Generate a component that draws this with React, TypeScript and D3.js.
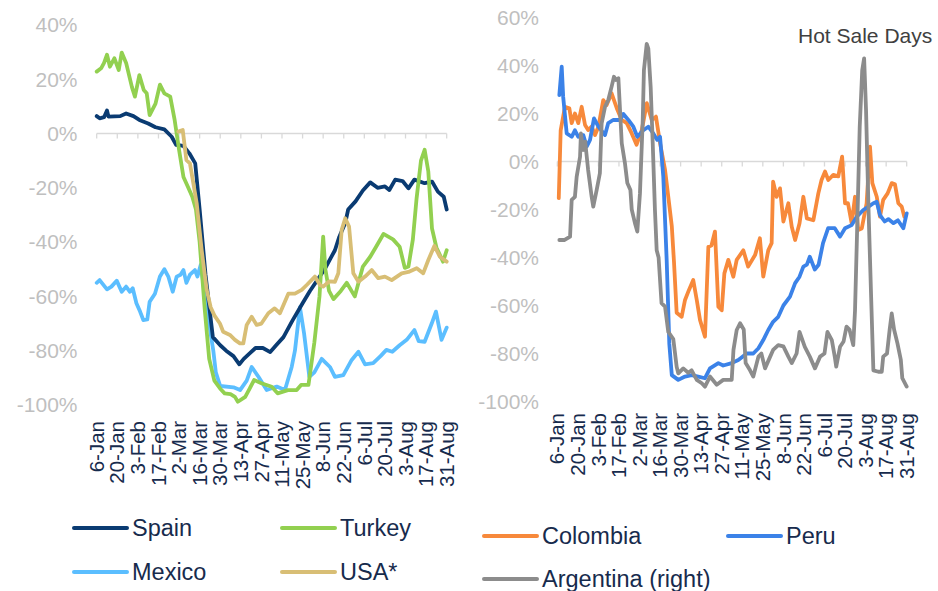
import React from "react";
import * as d3 from "d3";

// Day offsets are counted from 6-Jan
const tickLabels = ["6-Jan","20-Jan","3-Feb","17-Feb","2-Mar","16-Mar","30-Mar","13-Apr","27-Apr","11-May","25-May","8-Jun","22-Jun","6-Jul","20-Jul","3-Aug","17-Aug","31-Aug"];
const tickDays = tickLabels.map((_, i) => i * 14);
const leftYTicks = [40, 20, 0, -20, -40, -60, -80, -100];
const rightYTicks = [60, 40, 20, 0, -20, -40, -60, -80, -100];

const spain: [number, number][] = [[0,6.4],[2,5.6],[5,6],[7,8.5],[8,6.2],[16,6.4],[20,7.4],[25,6.4],[29,5],[35,3.7],[40,2.3],[46,1.5],[51,-1.2],[54,-4.2],[59,-4.6],[63,-7.3],[67,-11],[70,-28],[74,-52],[79,-75],[84,-78],[88,-80],[93,-82],[97,-85],[100,-83],[104,-81],[108,-79],[113,-79],[118,-80.5],[122,-78],[127,-75],[133,-69],[140,-62.5],[145,-58],[150,-54],[155,-50],[159,-46],[162,-43],[165,-38],[169,-33],[171,-28],[176,-25],[181,-21],[186,-18],[191,-20],[196,-19.5],[199,-20.8],[203,-17],[208,-17.5],[212,-20.2],[216,-17],[223,-18.3],[228,-17.7],[232,-21.4],[236,-23.3],[238,-28]];
const turkey: [number, number][] = [[0,22.8],[3,24],[5,26],[7,29],[9,24.6],[12,27.7],[15,23.4],[17,29.8],[20,26],[24,17],[26,13.6],[29,21.5],[32,16],[34,14.8],[36,6.8],[40,11],[43,18],[46,14.8],[50,13.6],[53,5],[56,-6],[59,-16],[62,-19.6],[65,-23.3],[67.5,-28],[70,-40],[73.5,-65],[76.5,-83],[80,-91],[84,-94],[87,-95.7],[91,-96],[94,-97],[96,-98.8],[101,-97],[104,-94],[107,-90.8],[112,-92],[119,-93.3],[123,-95.7],[130,-94.5],[136,-94.5],[139,-92.6],[144,-92.6],[148,-77],[151.5,-60],[154,-38],[155.5,-50],[158,-58],[161,-61],[166,-58],[170,-55],[175.5,-60],[181,-49],[186,-45.4],[190,-41.7],[195,-37],[201.5,-39],[206,-41.7],[209.5,-49.5],[212,-49],[215,-39],[217.5,-24],[220.5,-10],[223,-6],[225.5,-14],[228,-35],[231,-42],[235.5,-47.2],[238,-43]];
const mexico: [number, number][] = [[0,-55],[2,-54],[7,-57.4],[10,-56.4],[13.6,-54.2],[17,-58.3],[20,-56.4],[22.6,-58.3],[24.5,-57],[27,-62.5],[29.5,-65.6],[31.7,-68.7],[34.4,-68.5],[36,-62],[39.6,-59],[43,-52.7],[46,-50],[48.7,-52.7],[51.7,-58.3],[54.4,-52.7],[57,-52],[59,-50.3],[61,-55],[63.4,-52],[66.8,-50.3],[68.5,-52.7],[70.7,-48.4],[73.6,-59],[77,-72],[79.3,-80],[81,-88],[84,-93],[93,-93.5],[97.5,-94.5],[102,-91],[105.4,-86],[110,-89.6],[115.6,-94.5],[122.4,-93.2],[128,-94.5],[132.6,-86],[134.8,-80],[138.2,-64],[141,-73.6],[144.6,-89.6],[148,-88],[153,-83],[158.6,-86],[162,-89.6],[167.7,-89],[173.4,-83.4],[178,-80.4],[182.5,-85],[188,-84.6],[193,-82],[197,-79.7],[201,-80.4],[206,-78],[210.8,-76],[216,-72.4],[219,-76.5],[223,-76.7],[227.8,-70],[230.7,-65.6],[234.5,-76],[238,-71.5]];
const usa: [number, number][] = [[55.5,0.7],[58.5,1.3],[61,-9.8],[63.4,-11],[65.7,-18.3],[68,-25.7],[71.4,-43],[74.8,-57.6],[77.5,-64],[80,-67],[83.8,-70],[86,-73],[90.6,-74.2],[94,-76],[97.4,-77.3],[99.7,-77.3],[102,-70.5],[105.4,-67.5],[108.8,-70.5],[112,-70],[116.7,-66.2],[121,-64.4],[124.6,-66.2],[130.3,-59],[134.8,-59],[139.4,-57.6],[142.8,-55.8],[148.4,-52.7],[151.8,-55.8],[154,-56.4],[158,-54.5],[162,-54.6],[164.3,-51.5],[166.6,-35.5],[169,-31.2],[171.6,-34.3],[174.5,-51.5],[178,-54.6],[182.5,-52.7],[187,-50.3],[191.5,-53.3],[196,-52.7],[200.6,-54],[207.4,-51.5],[212,-51],[217.6,-49.6],[222,-51.5],[225.5,-46.6],[229.6,-41.4],[233.4,-45.4],[238,-47.2]];

const colombia: [number, number][] = [[1,-15.3],[2.3,13],[5.2,22.8],[8.2,22.2],[9.8,16],[12,20],[14.3,16],[16.6,22.8],[18.9,15.2],[21,13.1],[23.4,14.6],[25.7,11],[28,14.5],[31.3,25.6],[33.6,23.5],[37,28.4],[40.5,22.2],[43.9,17.3],[47.3,16],[50.7,11.7],[54,7],[57.5,13],[61,24.3],[64.3,17.3],[67.2,18.7],[70,7.6],[73.4,-3.5],[75.6,-14.7],[78,-27],[79.5,-42],[81.3,-63],[84.7,-64.7],[87,-57.7],[89.7,-53.5],[92.6,-49.4],[95,-57.7],[97.2,-66],[100.6,-73],[102.9,-35.5],[105,-35],[107.4,-29.2],[109.7,-60.5],[112,-62],[113.8,-46.6],[116.5,-41],[119.9,-48],[122.2,-41],[126.7,-37],[130,-43.8],[134.7,-39],[138,-32],[140.3,-48],[143.7,-37],[146,-34],[147,-8.4],[149.4,-14.7],[151.7,-11.2],[154,-25],[157.4,-17.4],[159.7,-27.2],[162,-32.7],[165,-25.7],[167.6,-14.7],[170,-23.7],[174.4,-24.5],[177.8,-13.3],[180,-7.7],[182.4,-4.2],[184.6,-7.7],[188,-5.6],[191.4,-6.2],[194,2],[196,-17.4],[198,-17.4],[200.5,-25.7],[202.8,-14.7],[205,-28.5],[207.4,-27.9],[210.7,-17.4],[213,6.2],[214.6,-9],[217.6,-14.7],[219.8,-23],[222,-16],[225,-13.3],[227.8,-9],[230,-9.5],[232.3,-17.4],[234.6,-18.8],[236.4,-23]];
const peru: [number, number][] = [[1.4,27.7],[3,39.5],[4,27],[6.4,11.7],[9.8,10.3],[12,13],[14.3,10.3],[17.7,11],[20,6.2],[22.3,9],[25,18],[28,14.5],[32.5,11],[34.7,16],[38,17.3],[42.7,17.3],[45,19.8],[48.4,17.3],[51.8,14.5],[54.5,10.3],[58.6,13],[62,14.5],[65.4,11.7],[68,9],[70,10.3],[72.2,-6.3],[74.5,-41],[76.3,-76],[78,-89],[82.4,-91],[87,-89.6],[91.5,-89],[96,-89.6],[100.6,-90.3],[104,-86.2],[109.7,-84],[113,-85],[118.8,-84],[123.3,-82.7],[129,-80],[133.5,-80],[137,-77.8],[140.3,-74.4],[143.7,-70.2],[147,-66.8],[150.5,-64.7],[154,-60],[158.5,-56.3],[162,-50.7],[165,-48],[167.6,-43.8],[170,-43],[172,-39.7],[175.4,-45],[178,-43],[181,-34],[184.5,-27.8],[189,-27.8],[192.6,-31.3],[196,-27.8],[200.5,-26.5],[204,-23],[208.4,-20.2],[212,-18.8],[215.3,-17.4],[217.6,-16.8],[219.8,-22.3],[223,-25],[225.5,-24],[229,-25.7],[232,-24.5],[235.7,-27.8],[238,-21.6]];
const argentina: [number, number][] = [[1.4,-32.7],[5,-32.7],[8.7,-31.3],[9.8,-16],[12,-14.7],[13.2,-6.3],[15.5,2],[16.1,11.7],[17.7,4.8],[19,8.3],[21,-3.5],[23.4,-14.7],[24.5,-18.8],[26.8,-11.9],[29,-4.9],[30.2,15.9],[32.5,22.8],[34.7,25.6],[37,31.2],[38.6,35.3],[40,34],[41.6,34.7],[43.9,7.6],[46.1,-0.8],[47.7,-9],[49.8,-11.9],[50.7,-20],[52.9,-25.7],[54.5,-29.2],[56.3,-13.3],[58.2,17.3],[59,38],[60.9,49],[62,47],[63.6,31],[65,7.6],[66.5,-20],[67.7,-37],[69,-40],[71,-59],[73.4,-60.5],[75.6,-71],[79,-74],[81.3,-85.5],[82.4,-88.3],[85.8,-86.2],[89.2,-88],[91.5,-87],[95,-91],[98.4,-92.4],[100.6,-93.8],[104,-89.6],[108.6,-93],[113,-91],[118.8,-91],[120,-78.5],[122.2,-70.2],[124.5,-67.4],[127,-70],[128.3,-84],[131.3,-87],[133.5,-89.6],[137,-81.3],[139,-80],[141.5,-86.2],[145,-81.3],[147,-78.5],[150.5,-76.5],[154,-77],[157.4,-81.3],[159.7,-84],[163,-80],[165,-71],[168.6,-77.2],[172,-81.3],[175.5,-86.2],[179,-81.3],[182,-80],[184,-71],[187,-74.4],[189,-81.3],[190,-85.5],[192.6,-77.2],[195,-75],[197,-68.8],[199,-70],[201.6,-76.5],[202.8,-62],[204.6,-20],[206,14.5],[207.7,38],[209,43],[210.3,21.4],[212,-20],[213.7,-55],[215.3,-87],[218.7,-87.6],[221,-87.6],[222,-81.3],[224.6,-80],[226.4,-70],[227.8,-63.3],[229.4,-70],[231.7,-75.8],[234,-82.7],[235,-90.3],[238,-93.8]];

const FONT = "'Liberation Sans', Arial, sans-serif";
const AXIS_GREY = "#BFBFBF";
const LABEL_NAVY = "#172B4D";

type Series = { name: string; color: string; data: [number, number][] };

const leftSeries: Series[] = [
  { name: "Mexico", color: "#5BBEFF", data: mexico },
  { name: "Spain", color: "#0A3B72", data: spain },
  { name: "Turkey", color: "#92D050", data: turkey },
  { name: "USA*", color: "#D8BE75", data: usa },
];
const rightSeries: Series[] = [
  { name: "Colombia", color: "#F7893B", data: colombia },
  { name: "Peru", color: "#3B82E8", data: peru },
  { name: "Argentina (right)", color: "#8C8C8C", data: argentina },
];

function Panel(props: {
  x0: number; x1: number; yTop: number; yBottom: number; vMax: number;
  yTicks: number[]; yLabelRight: number; series: Series[]; labelTop: number;
}) {
  const { x0, x1, yTop, yBottom, vMax, yTicks, yLabelRight, series, labelTop } = props;
  const xs = d3.scaleLinear().domain([0, 238]).range([x0, x1]);
  const ys = d3.scaleLinear().domain([vMax, -100]).range([yTop, yBottom]);
  const line = d3.line<[number, number]>().x((d) => xs(d[0])).y((d) => ys(d[1])).curve(d3.curveLinear);
  const y0 = ys(0);
  return (
    <g>
      {yTicks.map((t) => (
        <text key={t} x={yLabelRight} y={ys(t)} dy="0.35em" textAnchor="end" fill={AXIS_GREY} fontSize={21} fontFamily={FONT}>
          {t}%
        </text>
      ))}
      <line x1={x0} x2={x1} y1={y0} y2={y0} stroke="#D9D9D9" strokeWidth={1.3} />
      {tickDays.map((d) => (
        <line key={d} x1={xs(d)} x2={xs(d)} y1={y0} y2={y0 + 5} stroke="#D9D9D9" strokeWidth={1.3} />
      ))}
      {tickLabels.map((lab, i) => (
        <text key={lab} transform={`translate(${xs(tickDays[i])},${labelTop}) rotate(-90)`} dy="0.35em" textAnchor="end" fill={LABEL_NAVY} fontSize={20.5} fontFamily={FONT}>
          {lab}
        </text>
      ))}
      {series.map((s) => (
        <path key={s.name} d={line(s.data) || ""} fill="none" stroke={s.color} strokeWidth={3.8} strokeLinejoin="round" strokeLinecap="round" />
      ))}
    </g>
  );
}

function LegendItem(props: { x: number; y: number; color: string; label: string }) {
  const { x, y, color, label } = props;
  return (
    <g>
      <line x1={x} x2={x + 53} y1={y} y2={y} stroke={color} strokeWidth={4} strokeLinecap="round" />
      <text x={x + 58} y={y} dy="0.36em" fill={LABEL_NAVY} fontSize={23.5} fontFamily={FONT}>{label}</text>
    </g>
  );
}

export default function App() {
  return (
    <div style={{ position: "absolute", left: 0, top: 0 }}>
      <svg width={938} height={591} style={{ display: "block", background: "#fff" }}>
        <Panel x0={96.7} x1={446.7} yTop={24.9} yBottom={405} vMax={40} yTicks={leftYTicks} yLabelRight={77.5} series={leftSeries} labelTop={421} />
        <Panel x0={557.3} x1={906.7} yTop={17.5} yBottom={401.5} vMax={60} yTicks={rightYTicks} yLabelRight={539} series={rightSeries} labelTop={413} />
        <text x={798} y={43} fill="#404040" fontSize={21} fontFamily={FONT}>Hot Sale Days</text>
        <LegendItem x={74} y={528} color="#0A3B72" label="Spain" />
        <LegendItem x={282} y={528} color="#92D050" label="Turkey" />
        <LegendItem x={74} y={572} color="#5BBEFF" label="Mexico" />
        <LegendItem x={282} y={572} color="#D8BE75" label="USA*" />
        <LegendItem x={484} y={536} color="#F7893B" label="Colombia" />
        <LegendItem x={728} y={536} color="#3B82E8" label="Peru" />
        <LegendItem x={484} y={579} color="#8C8C8C" label="Argentina (right)" />
      </svg>
    </div>
  );
}
